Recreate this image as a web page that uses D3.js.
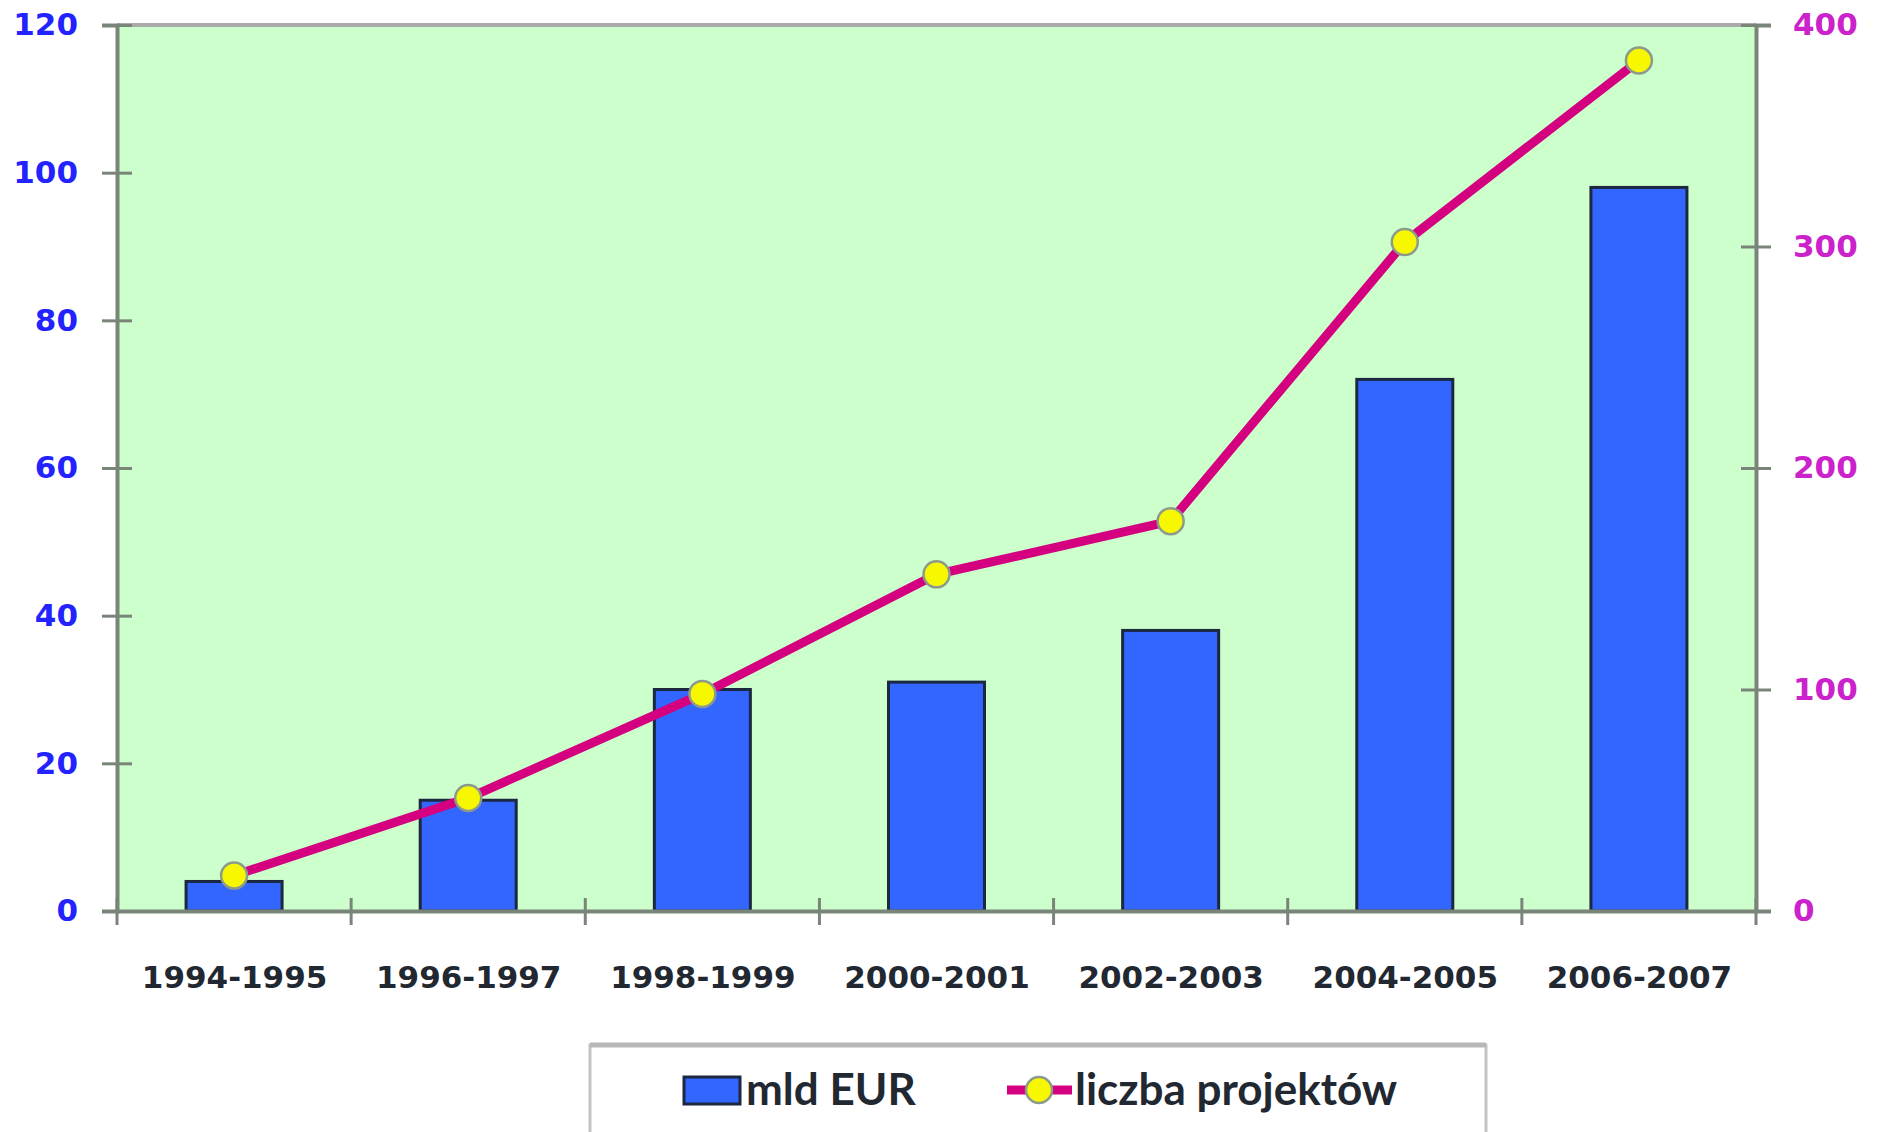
<!DOCTYPE html>
<html>
<head>
<meta charset="utf-8">
<script src="https://cdn.jsdelivr.net/npm/d3@7"></script>
<style>
  body { margin: 0; background: #fff; }
</style>
</head>
<body>
<div id="chart"></div>
<script>
var categories = ["1994-1995", "1996-1997", "1998-1999", "2000-2001", "2002-2003", "2004-2005", "2006-2007"];
var mldEur = [4, 15, 30, 31, 38, 72, 98];
var liczbaProjektow = [16, 51, 98, 152, 176, 302, 384];
var leftTicks = [0, 20, 40, 60, 80, 100, 120];
var rightTicks = [0, 100, 200, 300, 400];
var legendLabels = ["mld EUR", "liczba projektów"];

var width = 1879, height = 1132;
var pLeft = 117, pRight = 1756, pTop = 25, pBottom = 911;

var svg = d3.select("#chart").append("svg")
  .attr("width", width)
  .attr("height", height);

var x = d3.scaleBand()
  .domain(categories)
  .range([pLeft, pRight])
  .paddingInner(0.59)
  .paddingOuter(0.295);

var xc = d3.scalePoint()
  .domain(categories)
  .range([pLeft, pRight])
  .padding(0.5);

var yL = d3.scaleLinear().domain([0, 120]).range([pBottom, pTop]);
var yR = d3.scaleLinear().domain([0, 400]).range([pBottom, pTop]);

// plot background
svg.append("rect")
  .attr("x", pLeft).attr("y", pTop)
  .attr("width", pRight - pLeft).attr("height", pBottom - pTop)
  .attr("fill", "#ccffcc");

svg.append("line")
  .attr("x1", pLeft).attr("x2", pRight)
  .attr("y1", pTop).attr("y2", pTop)
  .attr("stroke", "#aaaaaa").attr("stroke-width", 4);

// bars
svg.selectAll("rect.bar")
  .data(mldEur)
  .enter().append("rect")
  .attr("class", "bar")
  .attr("x", function(d, i) { return x(categories[i]); })
  .attr("y", function(d) { return yL(d); })
  .attr("width", x.bandwidth())
  .attr("height", function(d) { return yL(0) - yL(d); })
  .attr("fill", "#3366ff")
  .attr("stroke", "#1c2740")
  .attr("stroke-width", 3);

// left axis
var axL = svg.append("g")
  .attr("transform", "translate(" + pLeft + ",0)")
  .call(d3.axisLeft(yL).tickValues(leftTicks).tickSize(15).tickPadding(24));
axL.select(".domain").attr("stroke", "#7a857a").attr("stroke-width", 4);
axL.selectAll(".tick line").attr("x2", 15).attr("x1", -15)
  .attr("stroke", "#7a857a").attr("stroke-width", 3);
axL.selectAll("text")
  .attr("fill", "#2323ff")
  .attr("font-family", "DejaVu Sans")
  .attr("font-size", 31)
  .attr("font-weight", "bold");

// right axis
var axR = svg.append("g")
  .attr("transform", "translate(" + pRight + ",0)")
  .call(d3.axisRight(yR).tickValues(rightTicks).tickSize(15).tickPadding(22));
axR.select(".domain").attr("stroke", "#7a857a").attr("stroke-width", 4);
axR.selectAll(".tick line").attr("x2", 15).attr("x1", -15)
  .attr("stroke", "#7a857a").attr("stroke-width", 3);
axR.selectAll("text")
  .attr("fill", "#cc22cc")
  .attr("font-family", "DejaVu Sans")
  .attr("font-size", 31)
  .attr("font-weight", "bold");

// bottom axis
var axB = svg.append("g")
  .attr("transform", "translate(0," + pBottom + ")")
  .call(d3.axisBottom(xc).tickSize(0).tickPadding(55));
axB.select(".domain").attr("stroke", "#7a857a").attr("stroke-width", 4);
axB.selectAll("text")
  .attr("fill", "#222831")
  .attr("font-family", "DejaVu Sans")
  .attr("font-size", 31)
  .attr("font-weight", "bold");

var step = (pRight - pLeft) / categories.length;
var bounds = d3.range(categories.length + 1).map(function(i) { return pLeft + i * step; });
svg.selectAll("line.xtick")
  .data(bounds)
  .enter().append("line")
  .attr("class", "xtick")
  .attr("x1", function(d) { return d; })
  .attr("x2", function(d) { return d; })
  .attr("y1", pBottom - 13).attr("y2", pBottom + 14)
  .attr("stroke", "#7a857a").attr("stroke-width", 3);

// line series
var line = d3.line()
  .x(function(d, i) { return xc(categories[i]); })
  .y(function(d) { return yR(d); });

svg.append("path")
  .datum(liczbaProjektow)
  .attr("d", line)
  .attr("fill", "none")
  .attr("stroke", "#d4007f")
  .attr("stroke-width", 9);

svg.selectAll("circle.pt")
  .data(liczbaProjektow)
  .enter().append("circle")
  .attr("class", "pt")
  .attr("cx", function(d, i) { return xc(categories[i]); })
  .attr("cy", function(d) { return yR(d); })
  .attr("r", 13)
  .attr("fill", "#f7f700")
  .attr("stroke", "#8c9a8c")
  .attr("stroke-width", 2.5);

// legend
var lg = svg.append("g");
lg.append("rect")
  .attr("x", 590).attr("y", 1045)
  .attr("width", 896).attr("height", 100)
  .attr("fill", "#fff")
  .attr("stroke", "#c4c4c4").attr("stroke-width", 3);
lg.append("line")
  .attr("x1", 590).attr("x2", 1486).attr("y1", 1045).attr("y2", 1045)
  .attr("stroke", "#b8b8b8").attr("stroke-width", 5);

lg.append("rect")
  .attr("x", 684).attr("y", 1077)
  .attr("width", 56).attr("height", 27)
  .attr("fill", "#3366ff")
  .attr("stroke", "#1c2740").attr("stroke-width", 3);
lg.append("text")
  .attr("x", 746).attr("y", 1105)
  .attr("font-family", "Lato")
  .attr("font-weight", "bold")
  .attr("font-size", 44)
  .attr("fill", "#222831")
  .text(legendLabels[0]);

lg.append("line")
  .attr("x1", 1007).attr("x2", 1072).attr("y1", 1090).attr("y2", 1090)
  .attr("stroke", "#d4007f").attr("stroke-width", 9);
lg.append("circle")
  .attr("cx", 1039).attr("cy", 1090).attr("r", 13)
  .attr("fill", "#f7f700")
  .attr("stroke", "#8c9a8c").attr("stroke-width", 2.5);
lg.append("text")
  .attr("x", 1075).attr("y", 1105)
  .attr("font-family", "Lato")
  .attr("font-weight", "bold")
  .attr("font-size", 44)
  .attr("fill", "#222831")
  .text(legendLabels[1]);
</script>
</body>
</html>
